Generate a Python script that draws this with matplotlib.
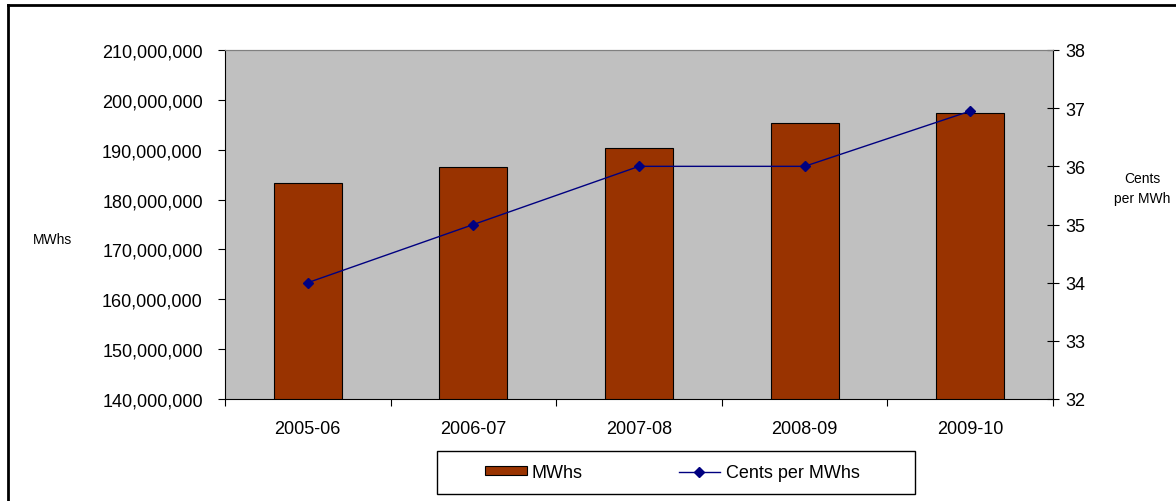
import matplotlib
matplotlib.use("Agg")
import matplotlib.pyplot as plt
from matplotlib.ticker import FuncFormatter, MultipleLocator
from matplotlib.lines import Line2D
from matplotlib.patches import Patch, Rectangle

plt.rcParams['font.family'] = ['Liberation Sans', 'DejaVu Sans']

categories = ["2005-06", "2006-07", "2007-08", "2008-09", "2009-10"]
mwhs = [183400000, 186500000, 190400000, 195400000, 197400000]
cents_per_mwh = [34.0, 35.0, 36.0, 36.0, 36.95]

W, H = 1176, 502
FS = 13
fig = plt.figure(figsize=(W / 100, H / 100), dpi=100)
ax = fig.add_axes([225 / W, 1 - 400 / H, (1053 - 225) / W, (400 - 51) / H])
ax.set_facecolor('#C0C0C0')

x = list(range(len(categories)))
ax.bar(x, mwhs, width=0.41, color='#993300', edgecolor='black', linewidth=0.8, zorder=2)
ax.set_xlim(-0.5, len(categories) - 0.5)
ax.set_ylim(140000000, 210000000)
ax.yaxis.set_major_locator(MultipleLocator(10000000))
ax.yaxis.set_major_formatter(FuncFormatter(lambda v, p: f"{int(v):,}"))
ax.set_xticks([i - 0.5 for i in range(len(categories) + 1)])
ax.set_xticklabels([])
ax.set_xticks(x, minor=True)
ax.set_xticklabels(categories, minor=True)
ax.tick_params(axis='x', which='major', length=5, direction='out', color='black')
ax.tick_params(axis='x', which='minor', length=0, labelsize=FS, pad=15)
ax.tick_params(axis='y', length=5, direction='out', labelsize=FS, pad=11)
for s in ['left', 'bottom']:
    ax.spines[s].set_color('black')
for s in ['top', 'right']:
    ax.spines[s].set_color('#808080')

ax2 = ax.twinx()
ax2.plot(x, cents_per_mwh, color='#000080', linewidth=1.0, marker='D', markersize=5, zorder=3)
ax2.set_ylim(32, 38)
ax2.yaxis.set_major_locator(MultipleLocator(1))
ax2.tick_params(axis='y', length=8, direction='inout', labelsize=FS, pad=5)
ax2.spines['right'].set_color('black')
ax2.spines['top'].set_color('#808080')
ax2.spines['left'].set_visible(False)
ax2.spines['bottom'].set_visible(False)

fig.text(52 / W, 1 - 240 / H, "MWhs", fontsize=10, ha='center', va='center')
fig.text(1142 / W, 1 - 189 / H, "Cents\nper MWh", fontsize=10, ha='center', va='center',
         linespacing=1.5)

handles = [Patch(facecolor='#993300', edgecolor='black', linewidth=0.8),
           Line2D([0], [0], color='#000080', linewidth=1.0, marker='D', markersize=5)]
leg = fig.legend(handles, ["MWhs", "Cents per MWhs"], loc='center left',
                 bbox_to_anchor=(476 / W, 1 - 473.5 / H), ncol=2, fontsize=FS,
                 frameon=False, columnspacing=5.3,
                 handlelength=2.3, handleheight=0.35, handletextpad=0.3, borderpad=0)

fig.add_artist(Rectangle((437 / W, 1 - 495 / H), (915 - 437) / W, (495 - 452) / H,
                         transform=fig.transFigure, facecolor='none', edgecolor='black',
                         linewidth=1.0))

fig.add_artist(Line2D([8 / W, 8 / W], [0, 1 - 6 / H], color='black', linewidth=2,
                      transform=fig.transFigure))
fig.add_artist(Line2D([8 / W, 1], [1 - 6 / H, 1 - 6 / H], color='black', linewidth=2,
                      transform=fig.transFigure))

fig.savefig("out.png", dpi=100)
